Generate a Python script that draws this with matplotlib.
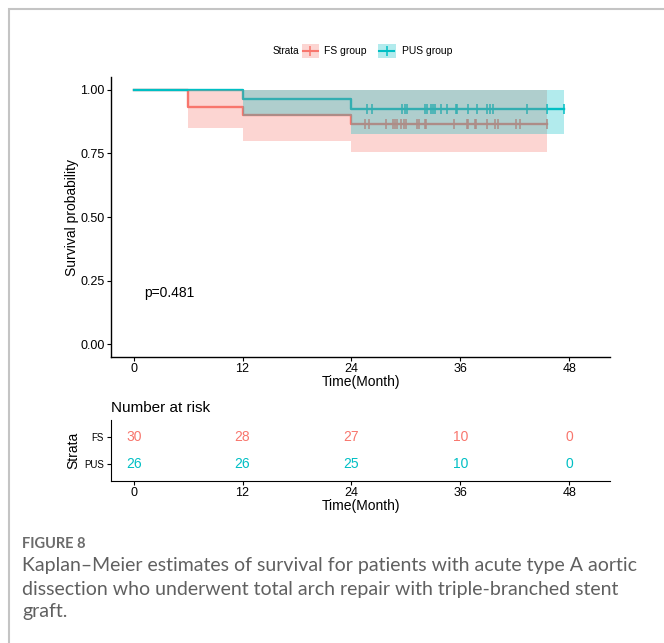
import matplotlib
matplotlib.use("Agg")
import matplotlib.pyplot as plt
from matplotlib.patches import Rectangle
from matplotlib.lines import Line2D

# ---------------- data ----------------
groups = ["FS group", "PUS group"]
strata_short = ["FS", "PUS"]
colors = ["#F8766D", "#00BFC4"]

fs_times = [0, 6, 12, 24, 45.6]
fs_surv = [1.0, 0.933, 0.900, 0.867, 0.867]
fs_lower = [1.0, 0.850, 0.800, 0.754, 0.754]
fs_upper = [1.0, 1.0, 1.0, 1.0, 1.0]
fs_censor = [25.5, 25.9, 27.8, 28.6, 28.8, 29.0, 29.5, 29.8, 30.0, 31.2, 31.4,
             32.1, 32.2, 35.3, 36.7, 36.8, 37.6, 37.7, 38.9, 39.8, 40.2, 42.1,
             42.6, 45.6]

pus_times = [0, 12, 24, 47.4]
pus_surv = [1.0, 0.962, 0.923, 0.923]
pus_lower = [1.0, 0.898, 0.827, 0.827]
pus_upper = [1.0, 1.0, 1.0, 1.0]
pus_censor = [25.7, 26.3, 29.6, 29.9, 30.1, 32.1, 32.3, 32.8, 33.0, 33.2, 33.9,
              34.5, 35.5, 35.6, 36.8, 37.8, 38.9, 39.3, 39.6, 43.3, 45.6, 47.4]

risk_times = [0, 12, 24, 36, 48]
fs_risk = [30, 28, 27, 10, 0]
pus_risk = [26, 26, 25, 10, 0]

x_ticks = [0, 12, 24, 36, 48]
y_ticks = [0.0, 0.25, 0.5, 0.75, 1.0]
p_text = "p=0.481"

# ---------------- figure ----------------
W, H = 664, 643
fig = plt.figure(figsize=(W / 100, H / 100), dpi=100)
plt.rcParams['font.family'] = ['Liberation Sans', 'DejaVu Sans']

def fx(px):
    return px / W

def fy(py):
    return 1 - py / H

# outer frame
fig.add_artist(Rectangle((fx(9), -0.2), 1.5, fy(9) + 0.2, transform=fig.transFigure,
                         fill=False, edgecolor="#c4c4c4", lw=1.5, clip_on=False))

ax = fig.add_axes([fx(111), fy(357), fx(610) - fx(111), fy(77) - fy(357)])

def km_step(ax, t, s, lo, hi, cens, col):
    ax.step(t, s, where="post", color=col, lw=1.7, zorder=2)
    cy = []
    for c in cens:
        idx = max(i for i, tt in enumerate(t) if tt <= c)
        cy.append(s[idx])
    ax.plot(cens, cy, linestyle="none", marker="|", color=col, markersize=6.5,
            mew=1.1, zorder=2)
    ax.fill_between(t, lo, hi, step="post", color=col, alpha=0.3, lw=0, zorder=3)

km_step(ax, fs_times, fs_surv, fs_lower, fs_upper, fs_censor, colors[0])
km_step(ax, pus_times, pus_surv, pus_lower, pus_upper, pus_censor, colors[1])

ax.set_xlim(-2.5, 52.5)
ax.set_ylim(-0.05, 1.05)
ax.set_xticks(x_ticks)
ax.set_yticks(y_ticks)
ax.set_yticklabels([f"{v:.2f}" for v in y_ticks])
for s in ["top", "right"]:
    ax.spines[s].set_visible(False)
for s in ["left", "bottom"]:
    ax.spines[s].set_linewidth(1.0)
ax.tick_params(labelsize=9, length=3, width=0.8, colors="black", pad=1.5)
ax.set_xlabel("Time(Month)", fontsize=10, labelpad=0)
ax.set_ylabel("Survival probability", fontsize=10, labelpad=1)
ax.text(1.2, 0.2, p_text, fontsize=10, ha="left", va="center")

# legend (manual, figure pixel layout)
fig.text(fx(272.5), fy(51), "Strata", fontsize=7.2, ha="left", va="center")
key_specs = [(301.5, 324), (378, 401.5)]
for (kx, tx), col, lab in zip(key_specs, colors, groups):
    fig.add_artist(Rectangle((fx(kx), fy(58)), fx(17.5), fy(44) - fy(58),
                             transform=fig.transFigure, facecolor=col, alpha=0.3,
                             lw=0))
    fig.add_artist(Line2D([fx(kx + 1), fx(kx + 16.5)], [fy(51), fy(51)],
                          transform=fig.transFigure, color=col, lw=1.5))
    fig.add_artist(Line2D([fx(kx + 8.75)], [fy(51)], transform=fig.transFigure,
                          color=col, marker="|", markersize=6.5, mew=1.1))
    fig.text(fx(tx), fy(51), lab, fontsize=7.5, ha="left", va="center")

# risk table
axr = fig.add_axes([fx(111), fy(481), fx(610) - fx(111), fy(420) - fy(481)])
axr.set_xlim(-2.5, 52.5)
axr.set_ylim(0.4, 2.6)
for t, n in zip(risk_times, fs_risk):
    axr.text(t, 2, str(n), color=colors[0], fontsize=10, ha="center", va="center")
for t, n in zip(risk_times, pus_risk):
    axr.text(t, 1, str(n), color=colors[1], fontsize=10, ha="center", va="center")
axr.set_yticks([2, 1])
axr.set_yticklabels(strata_short, fontsize=7)
axr.set_xticks(x_ticks)
for s in ["top", "right"]:
    axr.spines[s].set_visible(False)
axr.tick_params(axis="x", labelsize=9, length=3, width=0.8, pad=1.5)
axr.tick_params(axis="y", length=3, width=0.8, pad=2)
axr.set_xlabel("Time(Month)", fontsize=10, labelpad=0)
axr.set_ylabel("Strata", fontsize=10, labelpad=3)
axr.set_title("Number at risk", fontsize=11, loc="left", pad=6)

# caption
cap_font = ["Lato", "DejaVu Sans"]
fig.text(fx(22), fy(544), "FIGURE 8", fontsize=10.5, color="#6b6b6b",
         fontweight="bold", family=cap_font, va="center", ha="left")
cap_lines = ["Kaplan\u2013Meier estimates of survival for patients with acute type A aortic",
             "dissection who underwent total arch repair with triple-branched stent",
             "graft."]
for i, line in enumerate(cap_lines):
    fig.text(fx(22), fy(566 + 23 * i), line, fontsize=14.0, color="#606060",
             fontweight="normal", family=cap_font, va="center", ha="left")

fig.savefig("out.png", dpi=100, facecolor="white")
